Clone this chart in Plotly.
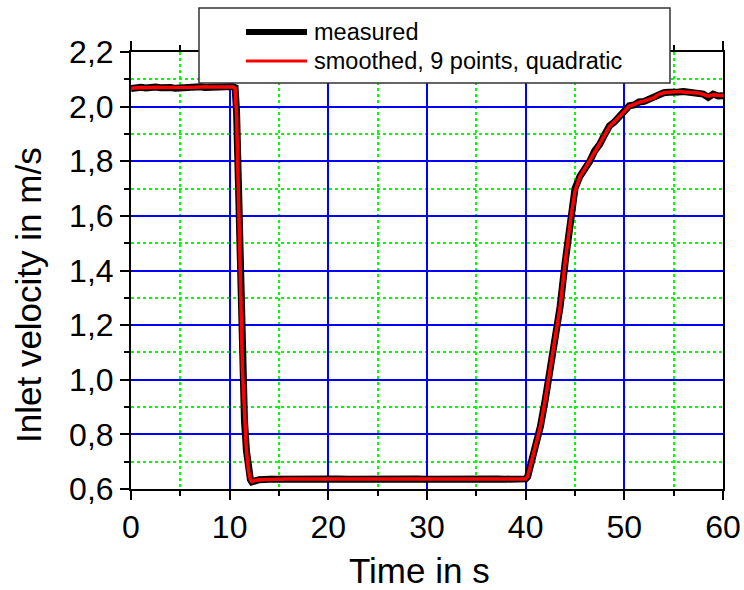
import plotly.graph_objects as go

# Inlet velocity step test: measured signal and Savitzky-Golay smoothed signal
time_s = [
    0, 0.5, 1, 1.5, 2, 2.5, 3, 3.5, 4, 4.5, 5, 5.5, 6, 6.5, 7, 7.5, 8, 8.5, 9, 9.5, 10, 10.3,
    10.55, 10.7, 10.9, 11.1, 11.3, 11.5, 11.7, 11.9, 12.1, 12.25, 12.5, 13,
    14, 15, 16, 17, 18, 19, 20, 21, 22, 23, 24, 25, 26, 27, 28, 29, 30,
    31, 32, 33, 34, 35, 36, 37, 38, 39, 40,
    40.2, 40.6, 41, 41.5, 42, 42.3, 42.7, 43, 43.5, 44, 44.3, 44.6, 45,
    45.5, 46, 46.5, 47, 47.5, 48, 48.5, 49, 49.5, 50, 50.5, 51, 51.5, 52,
    52.5, 53, 53.5, 54, 54.5, 55, 55.5, 56, 56.5, 57, 57.5, 58, 58.5, 59, 59.5, 60,
]

measured = [
    2.066, 2.069, 2.071, 2.068, 2.071, 2.072, 2.069, 2.071, 2.070, 2.067, 2.069, 2.072, 2.070, 2.071, 2.073, 2.070, 2.071, 2.073, 2.072, 2.070, 2.073, 2.074,
    2.070, 1.98, 1.70, 1.35, 1.03, 0.85, 0.74, 0.67, 0.635, 0.626, 0.631, 0.634,
    0.636, 0.637, 0.636, 0.638, 0.637, 0.636, 0.638, 0.637, 0.636, 0.637, 0.638, 0.636, 0.637, 0.636, 0.638, 0.637, 0.636,
    0.637, 0.638, 0.636, 0.637, 0.636, 0.638, 0.637, 0.636, 0.638, 0.637,
    0.645, 0.70, 0.76, 0.83, 0.93, 1.00, 1.09, 1.15, 1.27, 1.43, 1.52, 1.60, 1.70,
    1.745, 1.772, 1.800, 1.838, 1.862, 1.897, 1.930, 1.944, 1.963, 1.987, 2.003, 2.006, 2.017, 2.019,
    2.027, 2.031, 2.046, 2.051, 2.053, 2.056, 2.054, 2.055, 2.053, 2.052, 2.050, 2.046, 2.034, 2.046, 2.039, 2.040,
]

smoothed = [
    2.067, 2.069, 2.070, 2.069, 2.071, 2.071, 2.070, 2.070, 2.069, 2.068, 2.069, 2.071, 2.070, 2.071, 2.072, 2.071, 2.071, 2.072, 2.072, 2.071, 2.072, 2.073,
    2.068, 1.97, 1.70, 1.35, 1.03, 0.85, 0.74, 0.67, 0.634, 0.627, 0.631, 0.634,
    0.636, 0.637, 0.637, 0.637, 0.637, 0.637, 0.637, 0.637, 0.637, 0.637, 0.637, 0.637, 0.637, 0.637, 0.637, 0.637, 0.637,
    0.637, 0.637, 0.637, 0.637, 0.637, 0.637, 0.637, 0.637, 0.637, 0.637,
    0.646, 0.70, 0.76, 0.83, 0.93, 1.00, 1.09, 1.15, 1.27, 1.43, 1.52, 1.60, 1.69,
    1.744, 1.773, 1.802, 1.836, 1.864, 1.896, 1.928, 1.945, 1.964, 1.986, 2.002, 2.008, 2.016, 2.020,
    2.027, 2.033, 2.045, 2.051, 2.053, 2.055, 2.055, 2.054, 2.053, 2.052, 2.050, 2.045, 2.038, 2.043, 2.040, 2.040,
]

series_names = ["measured", "smoothed, 9 points, quadratic"]
x_title, y_title = "Time in s", "Inlet velocity in m/s"
x_range = [0, 60]
y_range = [0.6, 2.2]
x_major, x_minor = 10, 5
y_major, y_minor = 0.2, 0.1

FONT = "Arial, 'Liberation Sans', sans-serif"
W, H = 744, 590
M_L, M_R, M_T, M_B = 131, 21, 52, 101

fig = go.Figure()
fig.add_trace(go.Scatter(x=time_s, y=measured, mode="lines", name=series_names[0],
                         line=dict(color="black", width=7), showlegend=False))
fig.add_trace(go.Scatter(x=time_s, y=smoothed, mode="lines", name=series_names[1],
                         line=dict(color="#ff0000", width=3.5), showlegend=False))

axis_common = dict(
    showline=True, linecolor="black", linewidth=2,
    showgrid=True, gridcolor="#0000ff", gridwidth=1.5,
    ticks="outside", ticklen=9, tickwidth=1.5, tickcolor="black",
    tickfont=dict(family=FONT, size=32, color="black"),
    zeroline=False, automargin=False, tickmode="linear",
)
minor_common = dict(ticks="outside", ticklen=5, tickwidth=1.5, tickcolor="black",
                    showgrid=True, gridcolor="#00ff00", griddash="dot", gridwidth=1.5)

fig.update_xaxes(
    **axis_common,
    range=x_range, tick0=0, dtick=x_major, mirror="ticks",
    minor=dict(tick0=0, dtick=x_minor, **minor_common),
)
fig.update_yaxes(
    **axis_common,
    range=y_range, tick0=0.6, dtick=y_major, tickformat=".1f", mirror=True,
    minor=dict(tick0=0.6, dtick=y_minor, **minor_common),
)

# Hand-built legend box with long line samples, plus axis titles
pw, ph = W - M_L - M_R, H - M_T - M_B


def px_x(p):
    return (p - M_L) / pw


def px_y(p):
    return (H - M_B - p) / ph


shapes = [
    dict(type="rect", xref="paper", yref="paper",
         x0=px_x(199), x1=px_x(670), y0=px_y(83), y1=px_y(8),
         fillcolor="white", line=dict(color="#333333", width=1.5), layer="above"),
    dict(type="line", xref="paper", yref="paper",
         x0=px_x(246), x1=px_x(307), y0=px_y(32), y1=px_y(32),
         line=dict(color="black", width=6), layer="above"),
    dict(type="line", xref="paper", yref="paper",
         x0=px_x(246), x1=px_x(307), y0=px_y(61), y1=px_y(61),
         line=dict(color="#ff0000", width=3), layer="above"),
]
legend_font = dict(family=FONT, size=23.5, color="black")
title_font = dict(family=FONT, size=35, color="black")
annotations = [
    dict(xref="paper", yref="paper", x=px_x(312), y=px_y(32), text=series_names[0],
         showarrow=False, xanchor="left", yanchor="middle", font=legend_font),
    dict(xref="paper", yref="paper", x=px_x(312), y=px_y(61), text=series_names[1],
         showarrow=False, xanchor="left", yanchor="middle", font=legend_font),
    dict(xref="paper", yref="paper", x=px_x(419), y=px_y(570), text=x_title,
         showarrow=False, xanchor="center", yanchor="middle", font=title_font),
    dict(xref="paper", yref="paper", x=px_x(28), y=px_y(295), text=y_title, textangle=-90,
         showarrow=False, xanchor="center", yanchor="middle", font=title_font),
]

fig.update_layout(
    width=W, height=H,
    margin=dict(l=M_L, r=M_R, t=M_T, b=M_B, autoexpand=False),
    paper_bgcolor="white", plot_bgcolor="white",
    separators=",.",
    showlegend=False,
    shapes=shapes, annotations=annotations,
    font=dict(family=FONT, color="black"),
)

fig.write_html("out.html")
